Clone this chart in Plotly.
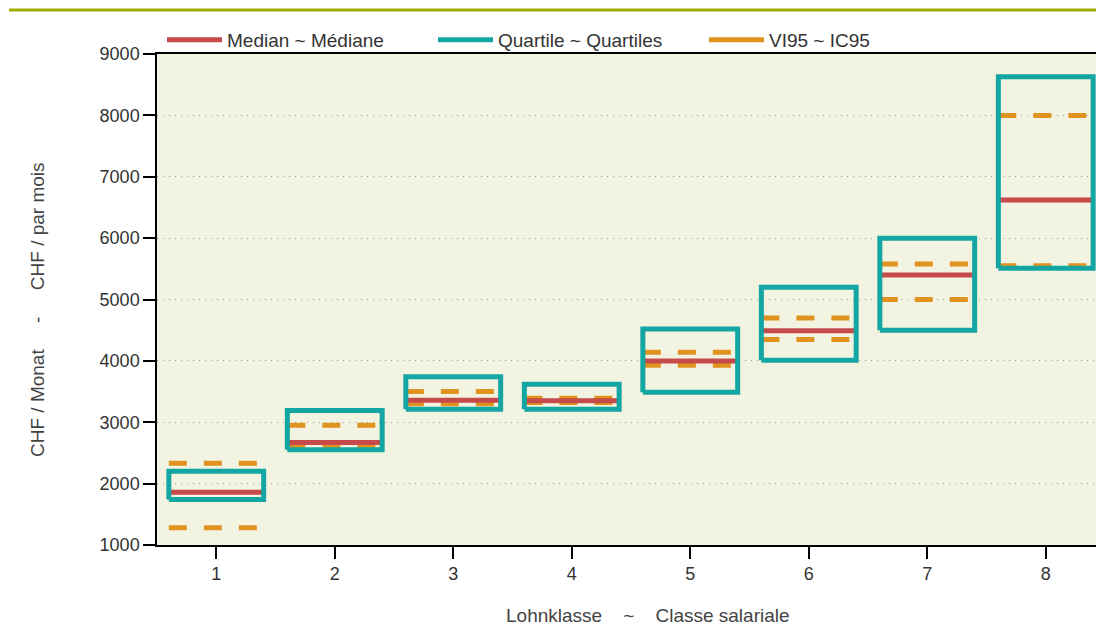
import plotly.graph_objects as go

classes = [1, 2, 3, 4, 5, 6, 7, 8]
median = [1860, 2670, 3360, 3350, 4000, 4490, 5400, 6620]
q1 = [1740, 2550, 3210, 3210, 3490, 4010, 4500, 5510]
q3 = [2200, 3190, 3740, 3620, 4520, 5200, 6000, 8630]
ci_low = [1280, 2620, 3300, 3320, 3930, 4350, 5000, 5550]
ci_high = [2330, 2950, 3500, 3390, 4140, 4700, 5580, 8000]
y_ticks = [1000, 2000, 3000, 4000, 5000, 6000, 7000, 8000, 9000]

RED = "#c64a49"
TEAL = "#13a6a3"
ORANGE = "#e1931f"
HW = 0.4  # half width of boxes in class units
FONT = "Liberation Sans"

# build paths
bx, by = [], []
for c, lo, hi in zip(classes, q1, q3):
    bx += [c - HW, c + HW, c + HW, c - HW, c - HW, None]
    by += [lo, lo, hi, hi, lo, None]
mx, my = [], []
for c, m in zip(classes, median):
    mx += [c - HW, c + HW, None]
    my += [m, m, None]
cx, cy = [], []
for c, lo, hi in zip(classes, ci_low, ci_high):
    cx += [c - HW, c + HW, None, c - HW, c + HW, None]
    cy += [lo, lo, None, hi, hi, None]

fig = go.Figure()
fig.add_trace(go.Scatter(x=cx, y=cy, mode="lines", showlegend=False,
                         line=dict(color=ORANGE, width=5, dash="18px,17px"),
                         hoverinfo="skip"))
fig.add_trace(go.Scatter(x=mx, y=my, mode="lines", name="Median ~ Médiane",
                         legendrank=1, line=dict(color=RED, width=5)))
fig.add_trace(go.Scatter(x=bx, y=by, mode="lines", name="Quartile ~ Quartiles",
                         legendrank=2, line=dict(color=TEAL, width=5)))
fig.add_trace(go.Scatter(x=[None], y=[None], mode="lines", name="VI95 ~ IC95",
                         legendrank=3, line=dict(color=ORANGE, width=5)))

W, H = 1096, 626
L, R, T, B = 157, 0, 54, 81
pw, ph = W - L - R, H - T - B

def px_x(x):
    return (x - L) / pw

def px_y(y):
    return (H - B - y) / ph

SPY = "\u00a0" * 5
SPX = "\u00a0" * 4

fig.update_layout(
    width=W, height=H,
    margin=dict(l=L, r=R, t=T, b=B),
    paper_bgcolor="white",
    plot_bgcolor="#f3f3e2",
    font=dict(family=FONT, size=18, color="#333333"),
    showlegend=True,
    legend=dict(orientation="h", x=px_x(162), xanchor="left", y=px_y(40), yanchor="middle",
                font=dict(family=FONT, size=19, color="#333333"),
                entrywidth=201, bgcolor="rgba(0,0,0,0)", itemwidth=55),
    xaxis=dict(range=[0.5, 0.5 + pw / 118.5], tickvals=classes, ticktext=[str(c) for c in classes],
               showgrid=False, zeroline=False, showline=True, linecolor="black", linewidth=1.5,
               mirror=True, ticks="outside", ticklen=12, tickwidth=1.5, tickcolor="black",
               tickfont=dict(size=18, color="#333333")),
    yaxis=dict(range=[1000, 9000], tickvals=y_ticks, showgrid=True, gridcolor="#9a9a9a",
               griddash="1px,5px", gridwidth=1, zeroline=False, showline=True,
               linecolor="black", linewidth=1.5, ticks="outside", ticklen=12, tickwidth=1.5,
               tickcolor="black", tickfont=dict(size=18, color="#333333")),
    shapes=[dict(type="line", xref="paper", yref="paper", x0=px_x(9), x1=1.0,
                 y0=px_y(10), y1=px_y(10), line=dict(color="#a3ab00", width=3))],
    annotations=[
        dict(text="CHF / Monat" + SPY + "-" + SPY + "CHF / par mois", xref="paper", yref="paper",
             x=px_x(37), y=px_y(310), textangle=-90, showarrow=False,
             xanchor="center", yanchor="middle", font=dict(size=19, color="#444444")),
        dict(text="Lohnklasse" + SPX + "~" + SPX + "Classe salariale", xref="paper", yref="paper",
             x=px_x(648), y=px_y(615), showarrow=False,
             xanchor="center", yanchor="middle", font=dict(size=19, color="#444444")),
    ],
)

fig.write_html("out.html", config={"displayModeBar": False},
               post_script="document.body.style.margin='0px';")
